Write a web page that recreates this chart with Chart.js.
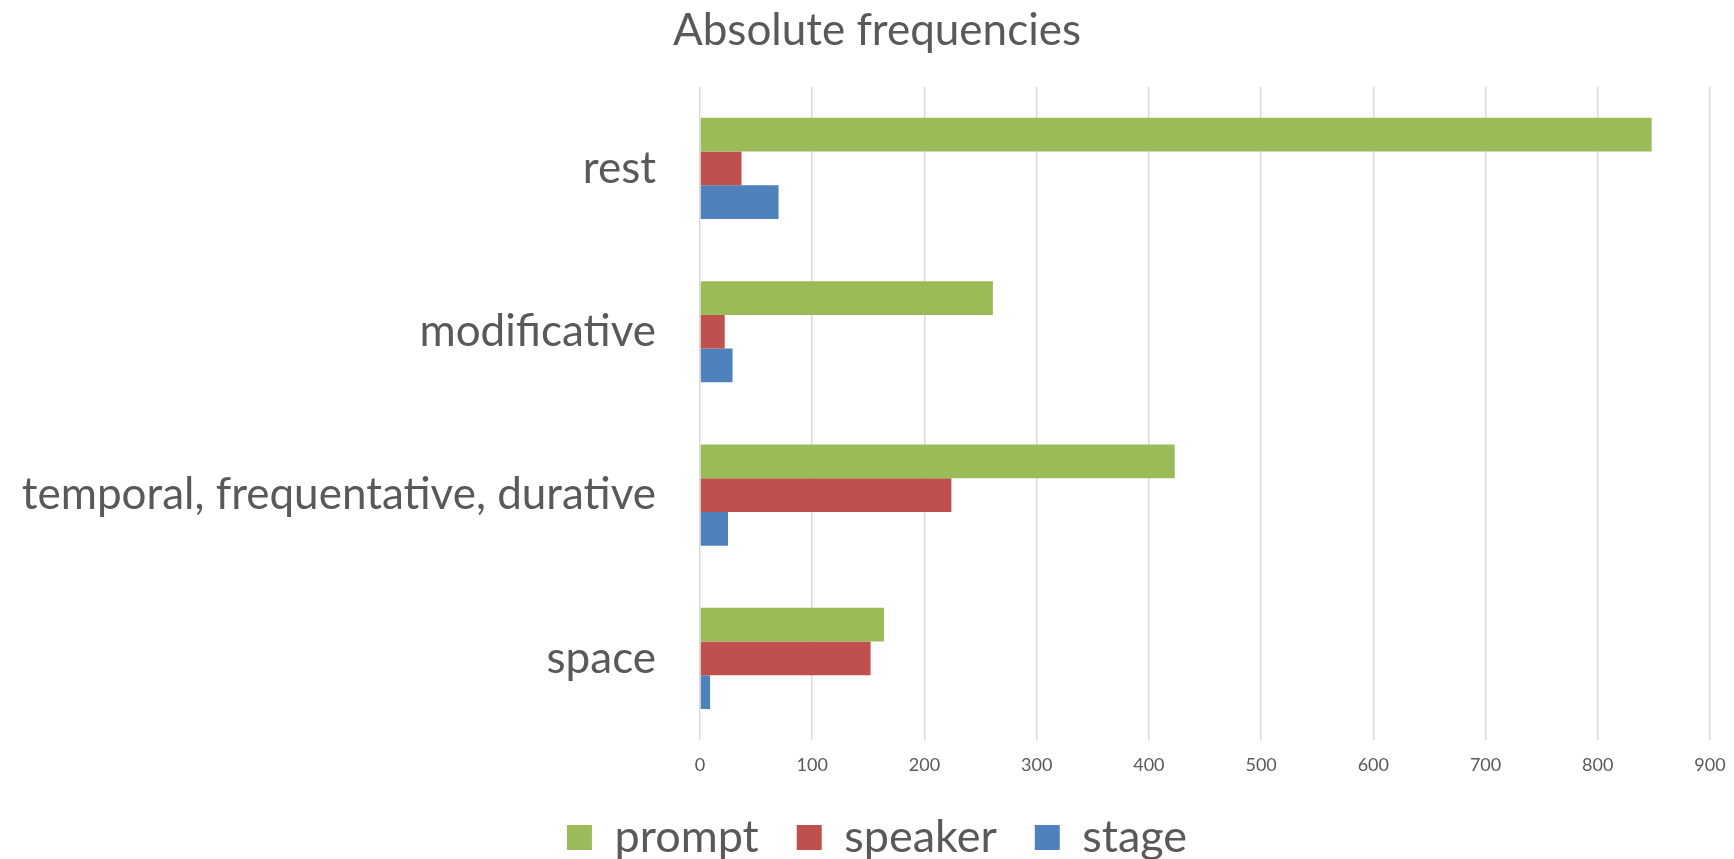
<!DOCTYPE html>
<html>
<head>
<meta charset="utf-8">
<script src="https://cdn.jsdelivr.net/npm/chart.js@4/dist/chart.umd.min.js"></script>
<style>
  html, body { margin: 0; padding: 0; background: #fff; }
  #wrap { width: 1734px; height: 859px; }
</style>
</head>
<body>
<div id="wrap"><canvas id="chart-canvas"></canvas></div>
<script>
const categories = ['rest', 'modificative', 'temporal, frequentative, durative', 'space'];
const promptValues = [848, 261, 423, 164];
const speakerValues = [37, 22, 224, 152];
const stageValues = [70, 29, 25, 9];
const xTicks = [0, 100, 200, 300, 400, 500, 600, 700, 800, 900];

const textColor = '#595959';
const fontFamily = 'Lato, "Open Sans", sans-serif';

const chart = document.querySelector('#chart-canvas');

// keep wide gaps between legend items without making the legend box tall
const legendFit = {
  id: 'legendFit',
  beforeLayout(c) {
    const lg = c.legend;
    if (!lg || lg._patched) return;
    const fit = lg.fit;
    lg.fit = function () { fit.call(this); this.height = 82; };
    lg._patched = true;
  }
};

let chartObject = new Chart(chart, {
  type: 'bar',
  data: {
    labels: categories,
    datasets: [{
      label: 'prompt',
      data: promptValues,
      backgroundColor: '#9BBB59'
    }, {
      label: 'speaker',
      data: speakerValues,
      backgroundColor: '#C0504D'
    }, {
      label: 'stage',
      data: stageValues,
      backgroundColor: '#4F81BD'
    }]
  },
  plugins: [legendFit],
  options: {
    indexAxis: 'y',
    responsive: true,
    maintainAspectRatio: false,
    animation: false,
    datasets: {
      bar: { categoryPercentage: 0.62, barPercentage: 1.0 }
    },
    layout: { padding: { left: 12, right: -8, top: 0, bottom: 0 } },
    plugins: {
      title: {
        display: true,
        text: 'Absolute frequencies',
        color: textColor,
        font: { family: fontFamily, size: 44, weight: 'normal' },
        padding: { top: 4, bottom: 30 }
      },
      legend: {
        position: 'bottom',
        labels: {
          color: textColor,
          font: { family: fontFamily, size: 45 },
          boxWidth: 25,
          boxHeight: 25,
          padding: 38
        }
      },
      tooltip: { enabled: false }
    },
    scales: {
      x: {
        min: 0,
        max: 900,
        afterBuildTicks: (axis) => { axis.ticks = xTicks.map(v => ({ value: v })); },
        afterFit: (axis) => { axis.height = 37; axis.paddingRight = 24; },
        grid: { color: '#d9d9d9', lineWidth: 1.5, drawTicks: false },
        border: { display: false },
        ticks: {
          color: textColor,
          font: { family: fontFamily, size: 18 },
          padding: 14
        }
      },
      y: {
        afterFit: (axis) => { axis.width = 688; },
        grid: { display: false, drawTicks: false },
        border: { display: false },
        ticks: {
          color: textColor,
          font: { family: fontFamily, size: 44 },
          padding: 44
        }
      }
    }
  }
});
</script>
</body>
</html>
